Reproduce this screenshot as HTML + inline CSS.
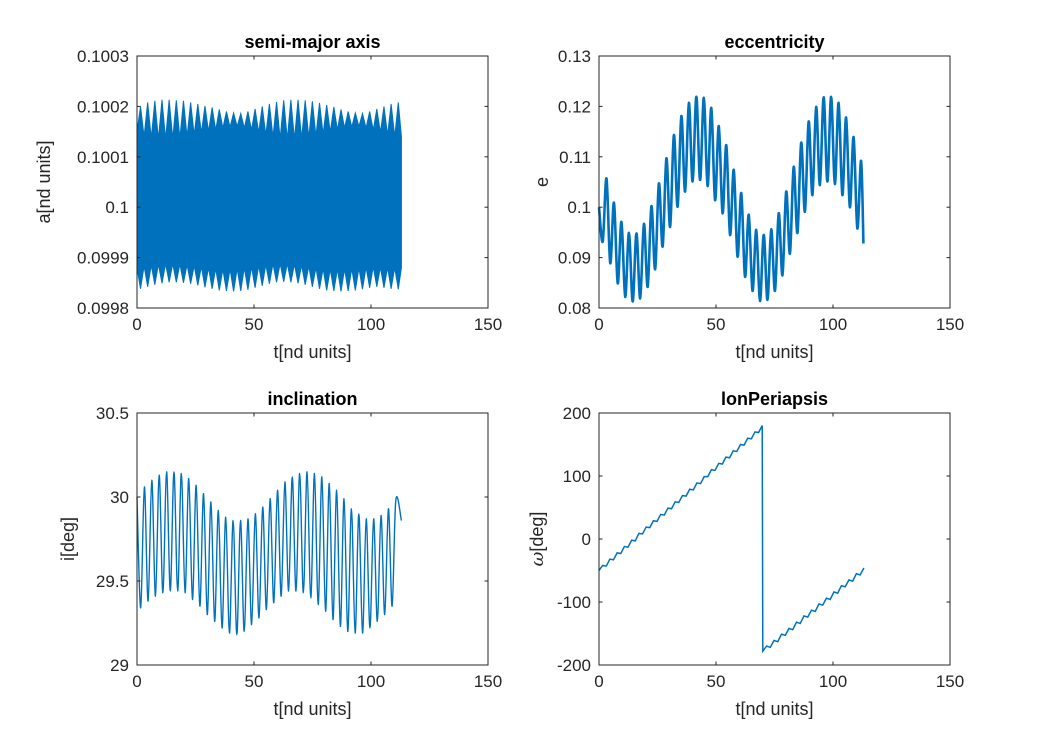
<!DOCTYPE html>
<html><head><meta charset="utf-8"><style>
body{margin:0;background:#fff;}
svg{display:block;font-family:"Liberation Sans",Arial,sans-serif;}
</style></head><body>
<svg id="fig" width="1050" height="750"></svg>
<script>
// ---- data ----
const xTicks=[0,50,100,150];
const semiUpperPeak=[0.100200,0.100208,0.100211,0.100213,0.100213,0.100212,0.100211,0.100208,0.100205,0.100201,0.100198,0.100194,0.100190,0.100187,0.100186,0.100190,0.100195,0.100200,0.100205,0.100209,0.100212,0.100213,0.100213,0.100212,0.100210,0.100207,0.100203,0.100199,0.100194,0.100190,0.100187,0.100186,0.100190,0.100195,0.100200,0.100205,0.100208];
const semiUpperValley=[0.100150,0.100140,0.100137,0.100135,0.100135,0.100136,0.100137,0.100140,0.100143,0.100147,0.100150,0.100153,0.100157,0.100159,0.100160,0.100157,0.100153,0.100148,0.100143,0.100139,0.100136,0.100135,0.100135,0.100136,0.100138,0.100141,0.100145,0.100149,0.100153,0.100157,0.100159,0.100160,0.100157,0.100153,0.100148,0.100143,0.100140];
const semiLowerPeak=[0.099838,0.099842,0.099846,0.099849,0.099851,0.099851,0.099850,0.099848,0.099845,0.099841,0.099838,0.099835,0.099834,0.099833,0.099834,0.099836,0.099840,0.099844,0.099848,0.099851,0.099852,0.099851,0.099849,0.099846,0.099842,0.099838,0.099835,0.099834,0.099833,0.099834,0.099835,0.099837,0.099840,0.099842,0.099840,0.099838,0.099837];
const semiLowerValley=[0.099880,0.099883,0.099885,0.099887,0.099888,0.099888,0.099887,0.099886,0.099884,0.099882,0.099880,0.099878,0.099877,0.099877,0.099878,0.099880,0.099882,0.099884,0.099886,0.099888,0.099888,0.099888,0.099887,0.099885,0.099883,0.099880,0.099878,0.099877,0.099877,0.099877,0.099878,0.099879,0.099881,0.099882,0.099881,0.099880,0.099880];
const eccStart=0.100, eccEnd=0.0928;
const eccMin=[0.0932,0.0889,0.0849,0.0822,0.0813,0.0819,0.0842,0.0877,0.0922,0.0961,0.1001,0.1031,0.1051,0.1054,0.1042,0.1014,0.0988,0.0945,0.0902,0.0862,0.0834,0.0814,0.0816,0.0834,0.0865,0.0908,0.0949,0.0991,0.1024,0.1044,0.1051,0.1046,0.1024,0.1000,0.0958];
const eccMax=[0.1057,0.1009,0.0971,0.0949,0.0948,0.0967,0.1002,0.1047,0.1097,0.1143,0.1181,0.1207,0.1219,0.1217,0.1197,0.1161,0.1123,0.1074,0.1028,0.0985,0.0955,0.0945,0.0956,0.0988,0.1031,0.1080,0.1128,0.1170,0.1199,0.1218,0.1219,0.1207,0.1178,0.1139,0.1092];
const incStart=30.00, incEnd=29.86;
const incMin=[29.34,29.38,29.41,29.43,29.44,29.44,29.43,29.39,29.35,29.30,29.26,29.22,29.19,29.18,29.20,29.24,29.28,29.33,29.37,29.41,29.44,29.44,29.43,29.40,29.36,29.32,29.27,29.23,29.20,29.19,29.19,29.22,29.26,29.30,29.35];
const incMax=[30.06,30.10,30.13,30.15,30.15,30.14,30.11,30.07,30.02,29.97,29.92,29.88,29.86,29.86,29.87,29.90,29.94,29.99,30.04,30.09,30.12,30.14,30.15,30.14,30.12,30.08,30.04,29.99,29.93,29.90,29.87,29.87,29.89,29.93,29.98,30.02];
const lonSeg1=[-50,-42,-43,-32,-33,-22,-23,-12,-13,-2,-3,9,8,19,18,29,28,39,38,49,48,59,58,69,68,79,78,89,88,99,99,110,109,120,119,130,129,140,139,150,149,160,159,170,169,180];
const lonSeg2=[-178,-170,-172,-161,-163,-151,-153,-142,-144,-132,-134,-122,-124,-113,-115,-103,-105,-94,-96,-84,-86,-74,-76,-65,-67,-55,-57,-46];

const NS='http://www.w3.org/2000/svg';
const svg=document.getElementById('fig');
function mk(tag,attrs,parent){const e=document.createElementNS(NS,tag);for(const k in attrs)e.setAttribute(k,attrs[k]);(parent||svg).appendChild(e);return e;}
const BLUE='#0072BD',AX='#262626';

function smoothPath(pts){
  let d=`M${pts[0][0]},${pts[0][1]}`;
  for(let i=0;i<pts.length-1;i++){
    const p0=pts[Math.max(0,i-1)],p1=pts[i],p2=pts[i+1],p3=pts[Math.min(pts.length-1,i+2)];
    const c1=[p1[0]+(p2[0]-p0[0])/6,p1[1]+(p2[1]-p0[1])/6];
    const c2=[p2[0]-(p3[0]-p1[0])/6,p2[1]-(p3[1]-p1[1])/6];
    d+=` C${c1[0]},${c1[1]} ${c2[0]},${c2[1]} ${p2[0]},${p2[1]}`;
  }
  return d;
}

function makeAxes(cfg){
  const g=mk('g',{});
  
  
  const L=cfg.x0,R=cfg.x1,T=cfg.y0,B=cfg.y1;
  const sx=v=>L+(v-0)/(150-0)*(R-L);
  const sy=v=>B-(v-cfg.ymin)/(cfg.ymax-cfg.ymin)*(B-T);
  const plot=mk('g',{},g);
  
  
  cfg.draw(plot,sx,sy);
  mk('rect',{x:L,y:T,width:R-L,height:B-T,fill:'none',stroke:AX,'stroke-width':1},g);
  xTicks.forEach(v=>{
    const x=sx(v);
    mk('line',{x1:x,y1:B,x2:x,y2:B-3.5,stroke:AX},g);
    mk('line',{x1:x,y1:T,x2:x,y2:T+3.5,stroke:AX},g);
    const t=mk('text',{x:x,y:B+22,'text-anchor':'middle','font-size':17,fill:AX},g);
    t.textContent=v;
    
    
  });
  cfg.yTicks.forEach((v,i)=>{
    const y=sy(v);
    mk('line',{x1:L,y1:y,x2:L+3.5,y2:y,stroke:AX},g);
    mk('line',{x1:R,y1:y,x2:R-3.5,y2:y,stroke:AX},g);
    const t=mk('text',{x:L-8,y:y+6,'text-anchor':'end','font-size':17,fill:AX},g);
    t.textContent=cfg.yLabels[i];
    
    
  });
  const ti=mk('text',{x:(L+R)/2,y:T-8,'text-anchor':'middle','font-size':18,'font-weight':'bold',fill:'#000'},g);
  ti.textContent=cfg.title;
  
  
  const xl=mk('text',{x:(L+R)/2,y:B+50,'text-anchor':'middle','font-size':18,fill:AX},g);
  xl.textContent='t[nd units]';
  
  
  const yl=mk('text',{x:0,y:0,'text-anchor':'middle','font-size':18,fill:AX,transform:`translate(${cfg.ylx},${(T+B)/2}) rotate(-90)`},g);
  if(cfg.ylabelHTML){yl.innerHTML=cfg.ylabelHTML;}else yl.textContent=cfg.ylabel;
  
  
}

// semi-major axis
makeAxes({name:'semi-major-axis',x0:137,x1:488,y0:56,y1:308,ymin:0.0998,ymax:0.1003,
  yTicks:[0.0998,0.0999,0.1,0.1001,0.1002,0.1003],yLabels:['0.0998','0.0999','0.1','0.1001','0.1002','0.1003'],
  title:'semi-major axis',ylabel:'a[nd units]',ylx:50,
  draw:(g,sx,sy)=>{
    const dt=3.06,t0=1.5,pts=[];
    pts.push([sx(0),sy(semiUpperValley[0])]);
    semiUpperPeak.forEach((v,k)=>{const t=t0+k*dt;pts.push([sx(Math.max(0,t-dt/2)),sy(semiUpperValley[k])]);pts.push([sx(t),sy(v)]);});
    pts.push([sx(113),sy(semiUpperValley[semiUpperValley.length-1])]);
    const low=[];
    semiLowerPeak.forEach((v,k)=>{const t=t0+k*dt;low.push([sx(Math.max(0,t-dt/2)),sy(semiLowerValley[k])]);low.push([sx(t),sy(v)]);});
    low.push([sx(113),sy(semiLowerValley[semiLowerValley.length-1])]);
    low.reverse().forEach(p=>pts.push(p));
    pts.push([sx(0),sy(semiLowerValley[0])]);
    const p=mk('polygon',{points:pts.map(p=>p.join(',')).join(' '),fill:BLUE,stroke:BLUE,'stroke-width':1},g);
    
    
  }});

function zigzag(g,sx,sy,start,mins,maxs,end,dt,name,width){
  const pts=[[sx(0),sy(start)]];
  const n=mins.length+maxs.length;let a=0,b=0;
  for(let i=1;i<=n;i++){
    let v;
    if(i%2===1){v=mins[a++];}else{v=maxs[b++];}
    if(v===undefined)continue;
    pts.push([sx(i*dt),sy(v)]);
  }
  pts.push([sx(113),sy(end)]);
  const pl=mk('path',{d:smoothPath(pts),fill:'none',stroke:BLUE,'stroke-width':width,'stroke-linejoin':'round'},g);
  
  
}

makeAxes({name:'eccentricity',x0:599,x1:950,y0:56,y1:308,ymin:0.08,ymax:0.13,
  yTicks:[0.08,0.09,0.1,0.11,0.12,0.13],yLabels:['0.08','0.09','0.1','0.11','0.12','0.13'],
  title:'eccentricity',ylabel:'e',ylx:548,
  draw:(g,sx,sy)=>zigzag(g,sx,sy,eccStart,eccMin,eccMax,eccEnd,1.6,'eccentricity-line',2.6)});

makeAxes({name:'inclination',x0:137,x1:488,y0:413,y1:665,ymin:29,ymax:30.5,
  yTicks:[29,29.5,30,30.5],yLabels:['29','29.5','30','30.5'],
  title:'inclination',ylabel:'i[deg]',ylx:74,
  draw:(g,sx,sy)=>zigzag(g,sx,sy,incStart,incMin,incMax,incEnd,1.58,'inclination-line',1.4)});

makeAxes({name:'lon-periapsis',x0:599,x1:950,y0:413,y1:665,ymin:-200,ymax:200,
  yTicks:[-200,-100,0,100,200],yLabels:['-200','-100','0','100','200'],
  title:'lonPeriapsis',ylabelHTML:'<tspan font-style="italic" font-family="DejaVu Serif, serif">ω</tspan>[deg]',ylx:543,
  draw:(g,sx,sy)=>{
    const pts=[];
    lonSeg1.forEach((v,i)=>pts.push([sx(i*1.55),sy(v)]));
    lonSeg2.forEach((v,j)=>pts.push([sx(70+j*1.6),sy(v)]));
    const pl=mk('polyline',{points:pts.map(p=>p.join(',')).join(' '),fill:'none',stroke:BLUE,'stroke-width':1.5},g);
    
    
  }});
</script>
</body></html>
